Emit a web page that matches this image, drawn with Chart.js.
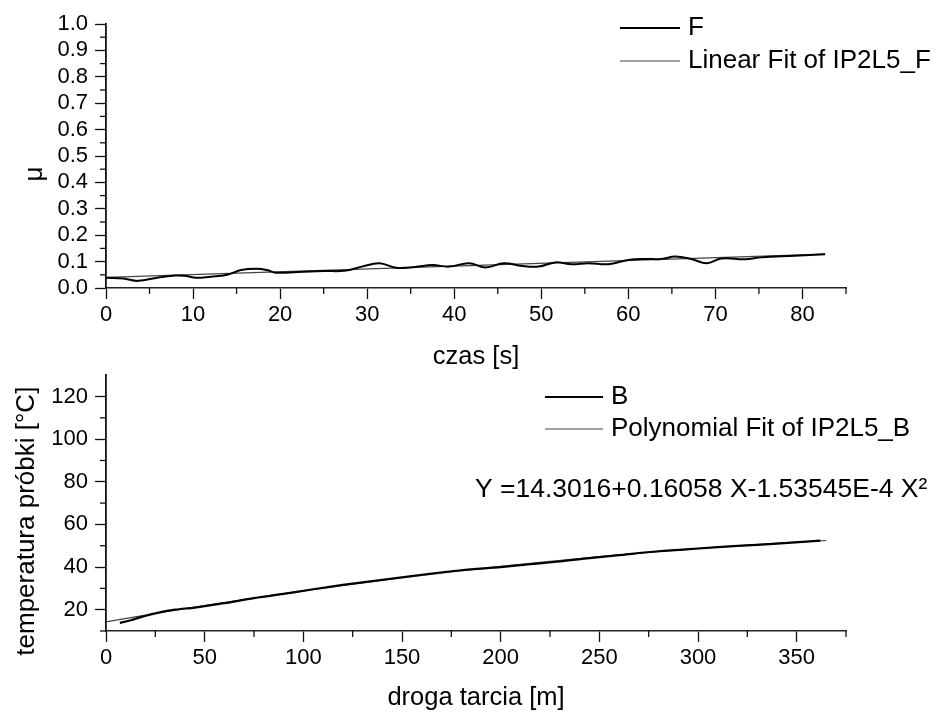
<!DOCTYPE html>
<html>
<head>
<meta charset="utf-8">
<script src="https://cdn.jsdelivr.net/npm/chart.js@4.4.0/dist/chart.umd.min.js"></script>
<style>
  html, body { margin: 0; padding: 0; background: #fff; }
  #wrap { position: relative; width: 937px; height: 713px; overflow: hidden; }
  canvas { position: absolute; left: 0; }
  #gora { top: 0; }
  #dol { top: 355px; }
</style>
</head>
<body>
<div id="wrap">
  <canvas id="gora" width="937" height="380"></canvas>
  <canvas id="dol" width="937" height="358"></canvas>
</div>
<script>
// --- wykres 1: wspolczynnik tarcia w czasie
const czas = [0, 2, 3.7, 6, 8, 9, 10.4, 12, 13.8, 15.5, 17.3, 18.5, 19.5, 22, 25, 27.6, 29.5, 31.4, 33.3, 35.5,
  37.5, 39.4, 41.7, 43.6, 45.7, 47.8, 49.7, 51.6, 53.5, 55.4, 57.7, 60, 61.9, 63.8, 65.4, 67.3, 69, 70.7,
  73.4, 75.3, 79.1, 82.6];
const mu = [0.039, 0.036, 0.027, 0.040, 0.047, 0.046, 0.039, 0.043, 0.049, 0.068, 0.073, 0.068, 0.058, 0.061,
  0.064, 0.066, 0.082, 0.094, 0.077, 0.080, 0.087, 0.081, 0.094, 0.078, 0.094, 0.083, 0.081, 0.097, 0.090,
  0.094, 0.090, 0.106, 0.110, 0.110, 0.119, 0.109, 0.094, 0.112, 0.109, 0.116, 0.122, 0.128];
const fitCzas = [0, 82.6];
const fitMu = [0.040, 0.128];

// --- wykres 2: temperatura probki
const droga = [7, 12, 18, 25, 35, 45, 60, 75, 90, 105, 120, 140, 160, 180, 200, 215, 230, 245, 260, 280, 300, 320, 340, 362];
const temp = [13.8, 14.9, 16.6, 18.3, 20.0, 21.0, 23.1, 25.4, 27.4, 29.6, 31.6, 34.0, 36.4, 38.5, 40.0, 41.3, 42.6,
  44.2, 45.6, 47.4, 48.7, 49.9, 51.0, 52.4];
const fitDroga = [0, 25, 50, 75, 100, 125, 150, 175, 200, 225, 250, 275, 300, 325, 350, 365];
const fitTemp = [14.3, 18.22, 21.95, 25.48, 28.82, 31.97, 34.93, 37.70, 40.28, 42.66, 44.85, 46.85, 48.66, 50.27, 51.69, 52.46];
const rownanie = 'Y =14.3016+0.16058 X-1.53545E-4 X\u00b2';

const FONT = "'Liberation Sans', Arial, Helvetica, sans-serif";
Chart.defaults.font.family = FONT;
Chart.defaults.color = '#000';

const pts = (xs, ys) => xs.map((x, i) => ({ x: x, y: ys[i] }));

// male kreski miedzy glownymi podzialkami
function minorTicks(isMajor) {
  return {
    id: 'minorTicks',
    afterDraw(chart) {
      const ctx = chart.ctx;
      ctx.save();
      ctx.strokeStyle = '#111';
      ctx.lineWidth = 1.3;
      Object.values(chart.scales).forEach(scale => {
        scale.ticks.forEach(t => {
          if (isMajor[scale.id](t.value)) return;
          if (!scale.isHorizontal() && t.value === scale.max) return;
          const p = scale.getPixelForValue(t.value);
          ctx.beginPath();
          if (scale.isHorizontal()) { ctx.moveTo(p, scale.top); ctx.lineTo(p, scale.top + 6); }
          else { ctx.moveTo(scale.right, p); ctx.lineTo(scale.right - 6, p); }
          ctx.stroke();
        });
      });
      ctx.restore();
    }
  };
}

function legenda(cfg) {
  return {
    id: 'legenda',
    afterDraw(chart) {
      const ctx = chart.ctx;
      ctx.save();
      ctx.font = '26px ' + FONT;
      ctx.textBaseline = 'middle';
      ctx.fillStyle = '#000';
      chart.data.datasets.forEach((ds, i) => {
        const y = cfg.y + i * cfg.gap;
        ctx.strokeStyle = ds.borderColor;
        ctx.lineWidth = ds.borderWidth;
        ctx.beginPath();
        ctx.moveTo(cfg.x, y);
        ctx.lineTo(cfg.x + cfg.len, y);
        ctx.stroke();
        ctx.fillText(ds.label, cfg.x + cfg.len + 8, y);
      });
      if (cfg.note) {
        ctx.font = '26.5px ' + FONT;
        ctx.fillText(cfg.note.text, cfg.note.x, cfg.note.y);
      }
      ctx.restore();
    }
  };
}

function osie(o) {
  const maj = o.isMajor;
  const grid = id => ({
    drawOnChartArea: false,
    drawTicks: true,
    tickLength: 11,
    tickWidth: 1.3,
    tickColor: c => (c.tick && maj[id](c.tick.value)) ? '#111' : 'rgba(0,0,0,0)'
  });
  return {
    x: {
      type: 'linear', min: o.xMin, max: o.xMax,
      afterFit: s => { s.height = o.xH; },
      border: { display: true, color: '#222', width: 1.6 },
      grid: grid('x'),
      ticks: { stepSize: o.xStep, autoSkip: false, maxRotation: 0, padding: 3, font: { size: 22 },
        callback: v => maj.x(v) ? String(v) : '' },
      title: { display: true, text: o.xTitle, font: { size: 25.5 }, padding: { top: 0, bottom: o.xTitlePad } }
    },
    y: {
      type: 'linear', min: o.yMin, max: o.yMax,
      afterFit: s => { s.width = 106; },
      border: { display: true, color: '#111', width: 1.8 },
      grid: grid('y'),
      ticks: { stepSize: o.yStep, autoSkip: false, padding: 7, font: { size: 22 },
        callback: v => maj.y(v) ? o.yFmt(v) : '' },
      title: { display: true, text: o.yTitle, font: { size: 26 }, padding: { top: o.yTitlePad, bottom: 0 } }
    }
  };
}

const majGora = {
  x: v => v % 10 === 0,
  y: v => Math.round(v * 100) % 10 === 0
};
const majDol = {
  x: v => v % 50 === 0,
  y: v => v % 20 === 0 && v >= 20 && v <= 120
};

new Chart(document.getElementById('gora'), {
  type: 'line',
  data: {
    datasets: [
      { label: 'F', data: pts(czas, mu), borderColor: '#000', borderWidth: 2, pointRadius: 0, tension: 0.4 },
      { label: 'Linear Fit of IP2L5_F', data: pts(fitCzas, fitMu), borderColor: '#444', borderWidth: 1.2, pointRadius: 0 }
    ]
  },
  options: {
    responsive: false, animation: false,
    layout: { padding: { left: 0, right: 91, top: 24, bottom: 0 } },
    plugins: { legend: { display: false }, tooltip: { enabled: false } },
    scales: osie({
      isMajor: majGora, xMin: 0, xMax: 85, xStep: 5, xH: 92, xTitle: 'czas [s]', xTitlePad: 8,
      yMin: 0, yMax: 1, yStep: 0.05, yFmt: v => v.toFixed(1), yTitle: 'μ     ', yTitlePad: 19
    })
  },
  plugins: [minorTicks(majGora), legenda({ x: 620, y: 28, gap: 33, len: 60 })]
});

new Chart(document.getElementById('dol'), {
  type: 'line',
  data: {
    datasets: [
      { label: 'B', data: pts(droga, temp), borderColor: '#000', borderWidth: 2.2, pointRadius: 0, tension: 0.3 },
      { label: 'Polynomial Fit of IP2L5_B', data: pts(fitDroga, fitTemp), borderColor: '#444', borderWidth: 1.2, pointRadius: 0, tension: 0.3 }
    ]
  },
  options: {
    responsive: false, animation: false,
    layout: { padding: { left: 0, right: 91, top: 10, bottom: 0 } },
    plugins: { legend: { display: false }, tooltip: { enabled: false } },
    scales: osie({
      isMajor: majDol, xMin: 0, xMax: 375, xStep: 25, xH: 82, xTitle: 'droga tarcia [m]', xTitlePad: 0,
      yMin: 10, yMax: 130, yStep: 10, yFmt: v => String(v), yTitle: 'temperatura próbki [°C]     ', yTitlePad: 11
    })
  },
  plugins: [minorTicks(majDol), legenda({ x: 545, y: 42, gap: 32, len: 58,
    note: { text: rownanie, x: 475, y: 135 } })]
});
</script>
</body>
</html>
